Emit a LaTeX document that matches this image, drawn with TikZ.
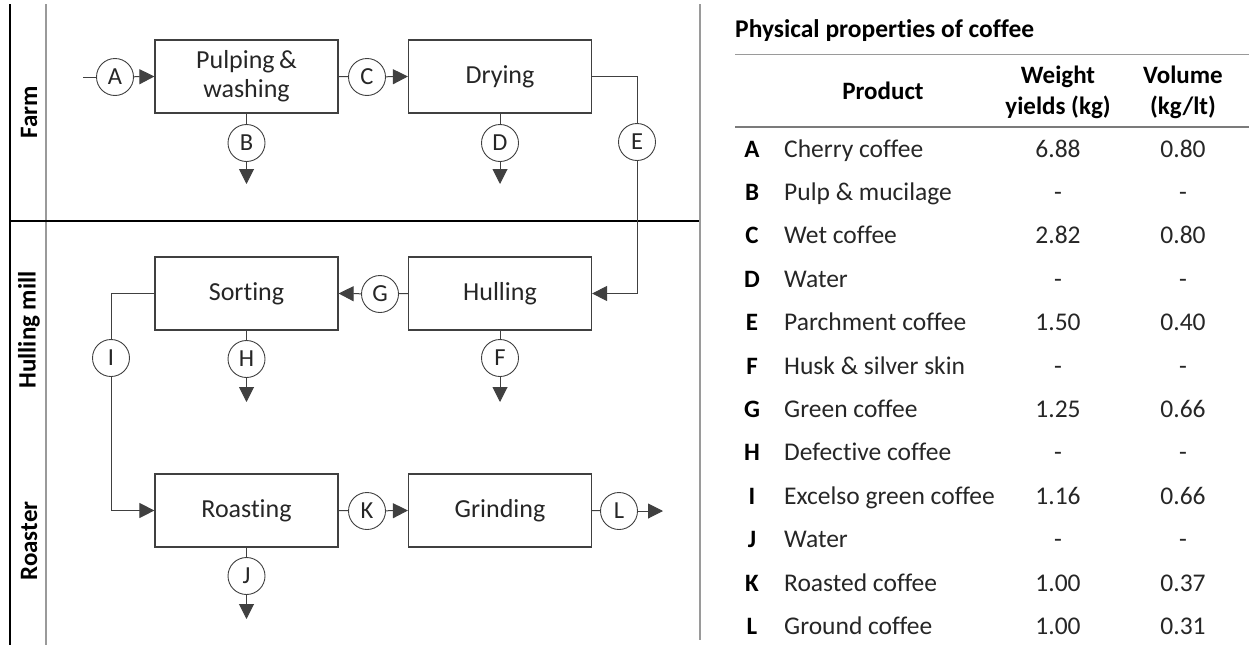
\documentclass[tikz,border=0pt]{standalone}
\usepackage{fontspec}
\setmainfont{Carlito}[Ligatures={NoCommon}]
\usetikzlibrary{arrows.meta}
\definecolor{txt}{HTML}{262626}
\definecolor{ln}{HTML}{404040}
\definecolor{rule}{HTML}{9A9A9A}
\definecolor{dash}{HTML}{A0A0A0}
\tikzset{
  proc/.style={draw=ln, line width=1.2pt, minimum width=183pt, minimum height=73pt,
    inner sep=0pt, align=center, text=txt, font=\fontsize{26}{31}\selectfont},
  stream/.style={draw=ln, line width=0.9pt, circle, minimum size=37pt, inner sep=0pt,
    text=txt, font=\fontsize{24.5}{26}\selectfont},
  flow/.style={draw=ln, line width=1pt},
  flowarr/.style={flow, -{Triangle[length=15pt,width=15pt]}},
  lane/.style={rotate=90, font=\fontsize{25}{27}\selectfont\bfseries, text=black},
  cell/.style={anchor=base, inner sep=0pt, text=txt, font=\fontsize{25.5}{28}\selectfont},
  hdr/.style={anchor=base, inner sep=0pt, text=black, font=\fontsize{25}{28}\selectfont\bfseries},
}
\begin{document}
\begin{tikzpicture}[x=1pt, y=-1pt]
\useasboundingbox (0,0) rectangle (1249,645);

% lane frame
\draw[black, line width=1.2pt] (10,4) -- (10,645);
\draw[rule, line width=1.2pt] (46,4) -- (46,645);
\draw[black, line width=1.2pt] (10,221) -- (700,221);
\draw[rule, line width=1.4pt] (700,4) -- (700,640);

\node[lane] (farm) at (29,112) {Farm};
\node[lane] (mill) at (29,330) {Hulling mill};
\node[lane] (roaster) at (29,541) {Roaster};

% process steps
\node[proc] (pw)  at (246.5,76.5) {Pulping\,\&\\[-2pt]washing};
\node[proc] (dry) at (500,76.5) {Drying};
\node[proc] (sor) at (246.5,293.5) {Sorting};
\node[proc] (hul) at (500,293.5) {Hulling};
\node[proc] (roa) at (246.5,510.5) {Roasting};
\node[proc] (gri) at (500,510.5) {Grinding};

% streams
\node[stream] (A) at (115,77) {A};
\node[stream] (B) at (246.5,143) {B};
\node[stream] (C) at (367,77) {C};
\node[stream] (D) at (500,143) {D};
\node[stream] (E) at (637,142) {E};
\node[stream] (F) at (500,358) {F};
\node[stream] (G) at (380,294) {G};
\node[stream] (H) at (246.5,359) {H};
\node[stream] (I) at (111,358) {I};
\node[stream] (J) at (246.5,576) {J};
\node[stream] (K) at (367,511) {K};
\node[stream] (L) at (619,511) {L};

\coordinate (a0) at (83,77);
\coordinate (bout) at (246.5,184);
\coordinate (dout) at (500,184);
\coordinate (hout) at (246.5,402);
\coordinate (fout) at (500,402);
\coordinate (jout) at (246.5,619);
\coordinate (lout) at (663,511);

% connectors
\draw[flow] (a0) -- (A);
\draw[flowarr] (A) -- (pw.west);
\draw[flow] (pw.east) -- (C);
\draw[flowarr] (C) -- (dry.west);
\draw[flow] (pw.south) -- (B);
\draw[flowarr] (B) -- (bout);
\draw[flow] (dry.south) -- (D);
\draw[flowarr] (D) -- (dout);
\draw[flow] (dry.east) -| (E);
\draw[flowarr] (E) |- (hul.east);
\draw[flow] (hul.west) -- (G);
\draw[flowarr] (G) -- (sor.east);
\draw[flow] (hul.south) -- (F);
\draw[flowarr] (F) -- (fout);
\draw[flow] (sor.south) -- (H);
\draw[flowarr] (H) -- (hout);
\draw[flow] (sor.west) -| (I);
\draw[flowarr] (I) |- (roa.west);
\draw[flow] (roa.south) -- (J);
\draw[flowarr] (J) -- (jout);
\draw[flow] (roa.east) -- (K);
\draw[flowarr] (K) -- (gri.west);
\draw[flow] (gri.east) -- (L);
\draw[flowarr] (L) -- (lout);

% properties table
\node[anchor=base west, inner sep=0pt, font=\fontsize{25.5}{28}\selectfont\bfseries] (title) at (735,37) {Physical properties of coffee};
\draw[rule, line width=1pt] (735,54) -- (1249,54);
\draw[rule!80!black, line width=2pt] (735,127) -- (1249,127);
\node[hdr] (hprod) at (883,99) {Product};
\node[hdr] (hw1) at (1058,83) {Weight};
\node[hdr] (hw2) at (1058,114) {yields (kg)};
\node[hdr] (hv1) at (1183,83) {Volume};
\node[hdr] (hv2) at (1183,114) {(kg/lt)};

\foreach \k/\lt/\nm/\w/\v [count=\i from 0] in {
  a/A/Cherry coffee/6.88/0.80,
  b/B/Pulp \& mucilage/-/-,
  c/C/Wet coffee/2.82/0.80,
  d/D/Water/-/-,
  e/E/Parchment coffee/1.50/0.40,
  f/F/Husk \& silver skin/-/-,
  g/G/Green coffee/1.25/0.66,
  h/H/Defective coffee/-/-,
  i/I/Excelso green coffee/1.16/0.66,
  j/J/Water/-/-,
  k/K/Roasted coffee/1.00/0.37,
  l/L/Ground coffee/1.00/0.31}{
  \pgfmathsetmacro{\yb}{157+43.4*\i}
  \node[cell, font=\fontsize{25}{28}\selectfont\bfseries, text=black] (l\k) at (752,\yb) {\lt};
  \node[cell, anchor=base west] (n\k) at (784,\yb) {\nm};
  \ifx\w-
    \node[cell, text=dash] (w\k) at (1058,\yb) {-};
    \node[cell, text=dash] (v\k) at (1183,\yb) {-};
  \else
    \node[cell] (w\k) at (1058,\yb) {\w};
    \node[cell] (v\k) at (1183,\yb) {\v};
  \fi
}
\end{tikzpicture}
\end{document}
